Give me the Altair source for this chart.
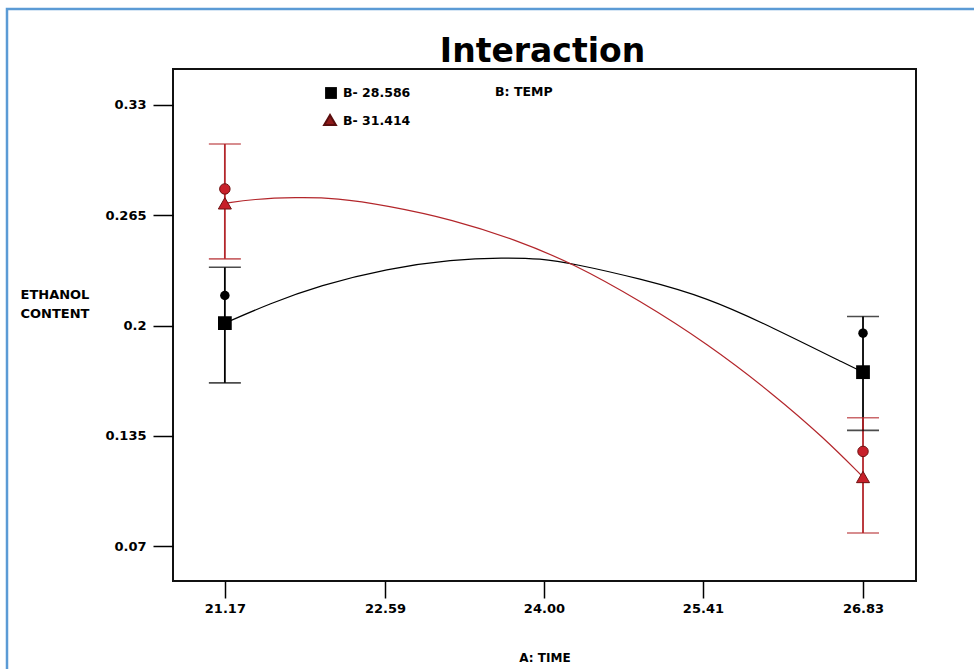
import altair as alt
import pandas as pd

# ---- data ----
x_levels = [21.17, 26.83]
series_names = ["B- 28.586", "B- 31.414"]

black_mean = [0.2014, 0.1725]
black_lo = [0.1662, 0.1382]
black_hi = [0.2343, 0.2053]
black_design = [0.2177, 0.1955]

red_mean = [0.2720, 0.1107]
red_lo = [0.2393, 0.0777]
red_hi = [0.3070, 0.1456]
red_design = [0.2805, 0.1258]

black_curve_x = [21.17, 21.57, 22.01, 22.61, 23.19, 23.64, 23.97, 24.26, 24.85, 25.45, 26.03, 26.74, 26.83]
black_curve_y = [0.2014, 0.2130, 0.2236, 0.2336, 0.2389, 0.2400, 0.2395, 0.2365, 0.2277, 0.2165, 0.1988, 0.1753, 0.1725]
red_curve_x = [21.17, 21.42, 21.80, 22.16, 22.61, 23.19, 23.75, 24.26, 24.85, 25.45, 26.03, 26.48, 26.83]
red_curve_y = [0.2720, 0.2745, 0.2756, 0.2752, 0.2707, 0.2625, 0.2505, 0.2365, 0.2147, 0.1893, 0.1598, 0.1340, 0.1107]

x_ticks = [21.17, 22.59, 24.00, 25.41, 26.83]
y_ticks = [0.07, 0.135, 0.2, 0.265, 0.33]
x_domain = [20.71, 27.30]
y_domain = [0.0494, 0.3512]

title_text = ["Interaction"]
legend_title = ["B: TEMP"]

BLACK = "#000000"
RED = "#B3262B"
RED_FILL = "#C8202A"
FONT = "DejaVu Sans"

W, H = 743, 512

xs = alt.Scale(domain=x_domain, nice=False, zero=False)
ys = alt.Scale(domain=y_domain, nice=False, zero=False)

curve_df = pd.DataFrame({
    "x": black_curve_x + red_curve_x,
    "y": black_curve_y + red_curve_y,
    "s": [series_names[0]] * len(black_curve_x) + [series_names[1]] * len(red_curve_x),
})
pts_df = pd.DataFrame({
    "x": x_levels * 2,
    "mean": black_mean + red_mean,
    "lo": black_lo + red_lo,
    "hi": black_hi + red_hi,
    "design": black_design + red_design,
    "s": [series_names[0]] * 2 + [series_names[1]] * 2,
})
color = alt.Color("s:N", scale=alt.Scale(domain=series_names, range=[BLACK, RED]), legend=None)

x_enc = alt.X("x:Q", scale=xs, axis=alt.Axis(
    values=x_ticks, format=".2f", title="A: TIME", grid=False, domain=False,
    tickSize=17, tickColor="black", tickWidth=1.5,
    labelFont=FONT, labelFontWeight="bold", labelFontSize=13, labelColor="black", labelPadding=4,
    titleFont=FONT, titleFontWeight="bold", titleFontSize=12, titleColor="black",
    titleY=76, titleBaseline="middle"))

base = alt.Chart(curve_df)

curves = base.mark_line(strokeWidth=1.2, interpolate="basis").encode(
    x=x_enc,
    y=alt.Y("y:Q", scale=ys, axis=alt.Axis(
        values=y_ticks, labelExpr="format(datum.value, '.3~f')", grid=False, domain=False,
        title=["ETHANOL", "CONTENT"], titleAngle=0, titleAlign="left", titleBaseline="middle",
        titleX=-153, titleY=225, titleFont=FONT, titleFontWeight="bold", titleFontSize=13,
        titleColor="black", titleLineHeight=19,
        tickSize=20, tickColor="black", tickWidth=1.5,
        labelFont=FONT, labelFontWeight="bold", labelFontSize=13, labelColor="black", labelPadding=7)),
    color=color, detail="s:N")

pbase = alt.Chart(pts_df)
err = pbase.mark_rule(strokeWidth=1.8).encode(
    x=alt.X("x:Q", scale=xs), y=alt.Y("lo:Q", scale=ys), y2="hi:Q", color=color)
cap_lo = pbase.mark_tick(orient="horizontal", size=32, thickness=1.6).encode(
    x=alt.X("x:Q", scale=xs), y=alt.Y("lo:Q", scale=ys), color=color)
cap_hi = pbase.mark_tick(orient="horizontal", size=32, thickness=1.6).encode(
    x=alt.X("x:Q", scale=xs), y=alt.Y("hi:Q", scale=ys), color=color)

black_df = pts_df[pts_df["s"] == series_names[0]]
red_df = pts_df[pts_df["s"] == series_names[1]]

sq = alt.Chart(black_df).mark_point(shape="square", filled=True, size=190, color=BLACK, opacity=1).encode(
    x=alt.X("x:Q", scale=xs), y=alt.Y("mean:Q", scale=ys))
bdot = alt.Chart(black_df).mark_point(shape="circle", filled=True, size=90, color=BLACK, opacity=1).encode(
    x=alt.X("x:Q", scale=xs), y=alt.Y("design:Q", scale=ys))
tri = alt.Chart(red_df).mark_point(shape="triangle-up", filled=True, size=170, fill=RED_FILL,
                                   stroke="#6E1212", strokeWidth=1, opacity=1).encode(
    x=alt.X("x:Q", scale=xs), y=alt.Y("mean:Q", scale=ys))
rdot = alt.Chart(red_df).mark_point(shape="circle", filled=True, size=110, fill=RED_FILL,
                                    stroke="#6E1212", strokeWidth=1, opacity=1).encode(
    x=alt.X("x:Q", scale=xs), y=alt.Y("design:Q", scale=ys))

# ---- legend inside the plot ----
leg_df = pd.DataFrame({"name": series_names})
leg_sq = alt.Chart(leg_df.iloc[[0]]).mark_point(shape="square", filled=True, size=140, color=BLACK, opacity=1).encode(
    x=alt.value(158), y=alt.value(24))
leg_tri = alt.Chart(leg_df.iloc[[1]]).mark_point(shape="triangle-up", filled=True, size=140,
                                                fill="#8E1A1A", stroke="#5A0E0E", opacity=1).encode(
    x=alt.value(157), y=alt.value(51))
leg_txt1 = alt.Chart(leg_df.iloc[[0]]).mark_text(align="left", baseline="middle", font=FONT,
                                                fontWeight="bold", fontSize=12.5, color="black").encode(
    x=alt.value(170), y=alt.value(24), text="name:N")
leg_txt2 = alt.Chart(leg_df.iloc[[1]]).mark_text(align="left", baseline="middle", font=FONT,
                                                fontWeight="bold", fontSize=12.5, color="black").encode(
    x=alt.value(170), y=alt.value(52), text="name:N")
leg_head = alt.Chart(pd.DataFrame({"t": legend_title})).mark_text(
    align="left", baseline="middle", font=FONT, fontWeight="bold", fontSize=12.5, color="black").encode(
    x=alt.value(322), y=alt.value(23), text="t:N")

title = alt.Chart(pd.DataFrame({"t": title_text})).mark_text(
    align="center", baseline="alphabetic", font=FONT, fontWeight="bold", fontSize=33, color="black").encode(
    x=alt.value(W / 2 - 2), y=alt.value(-7), text="t:N")

border = alt.Chart(pd.DataFrame({"t": [0]})).mark_rect(
    fill="transparent", stroke="#5B9BD5", strokeWidth=2.5).encode(
    x=alt.value(-166), x2=alt.value(820), y=alt.value(-60), y2=alt.value(620))

chart = alt.layer(
    border, curves, err, cap_lo, cap_hi, sq, bdot, tri, rdot,
    leg_sq, leg_tri, leg_txt1, leg_txt2, leg_head, title
).properties(
    width=W, height=H,
    autosize=alt.AutoSizeParams(type="none"),
    padding={"left": 173, "top": 69, "right": 58, "bottom": 88},
    background="white",
).configure_view(stroke="#111111", strokeWidth=2)

chart.save("out.html", embed_options={"renderer": "svg", "actions": False})
